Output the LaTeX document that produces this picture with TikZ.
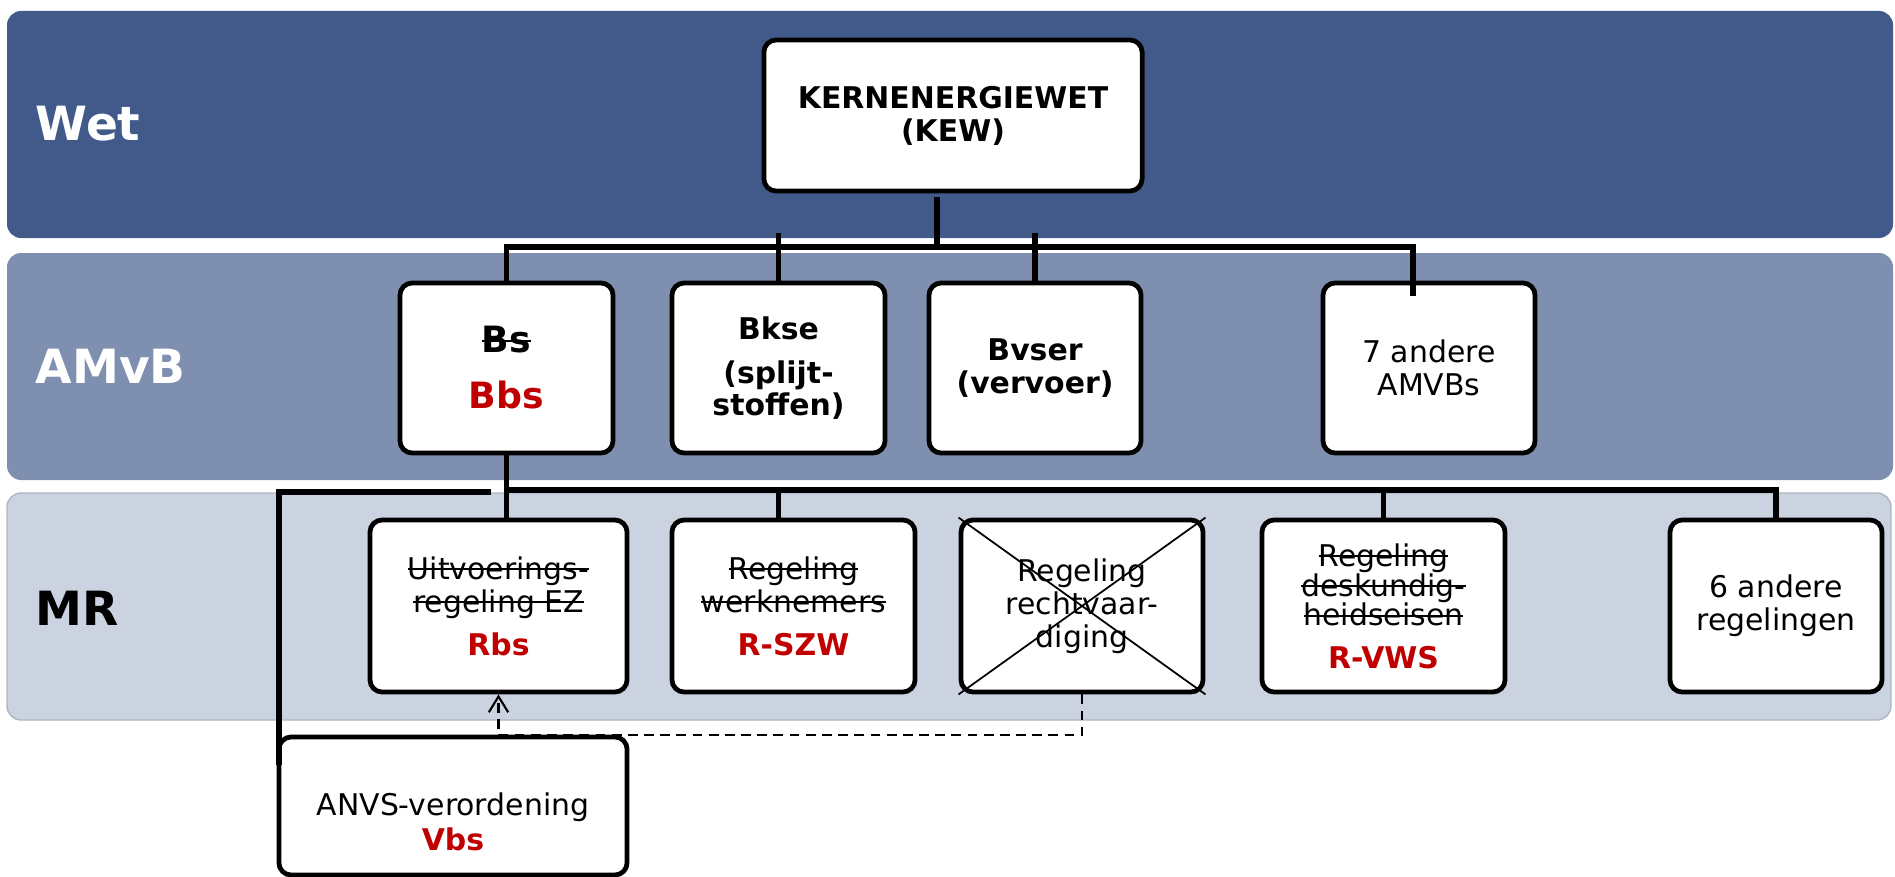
\documentclass[tikz,border=0pt]{standalone}
\usepackage{fontspec}
\setmainfont{DejaVu Sans}
\usepackage{tikz}
\usetikzlibrary{arrows.meta,calc}
\definecolor{wetblue}{HTML}{425A8A}
\definecolor{amvbblue}{HTML}{7F8FB0}
\definecolor{mrblue}{HTML}{CBD2E0}
\definecolor{mrline}{HTML}{AEB5C3}
\definecolor{newred}{HTML}{C00000}
\newlength{\strikelen}
\newcommand{\strike}[1]{\settowidth{\strikelen}{#1}\rlap{\rule[0.3em]{\strikelen}{0.55pt}}#1}
\newcommand{\newname}[1]{\textbf{\textcolor{newred}{#1}}}

\begin{document}
\begin{tikzpicture}[x=0.01cm,y=-0.01cm,
    band/.style={rounded corners=4pt},
    bandlabel/.style={anchor=west,inner sep=0pt,font=\fontsize{13.4}{15}\selectfont\bfseries},
    lawbox/.style={draw=black,line width=1.35pt,fill=white,rounded corners=3.5pt,align=center,inner sep=0pt,font=\fontsize{8.5}{9.4}\selectfont},
    tree/.style={line width=1.45pt},
    ref/.style={dash pattern=on 2.8pt off 1.8pt,line width=0.6pt,-{Straight Barb[length=4.5pt,width=5.5pt]}}]
    \useasboundingbox (0,0) rectangle (1895,876);
    \fill[wetblue,band] (7,11) rectangle (1893,238);
    \fill[amvbblue,band] (7,253) rectangle (1893,480);
    \filldraw[fill=mrblue,draw=mrline,band] (7,493) rectangle (1891,720);
    \node[bandlabel,white] (wet) at (35,124) {Wet};
    \node[bandlabel,white] (amvb) at (35,366) {AMvB};
    \node[bandlabel] (mr) at (35,608) {MR};

    \node[lawbox,minimum width=3.78cm,minimum height=1.51cm,font=\fontsize{8.5}{9.4}\selectfont\bfseries] (kew) at (953,115.5) {KERNENERGIEWET\\(KEW)};

    \node[lawbox,minimum width=2.13cm,minimum height=1.7cm,font=\fontsize{10.3}{11.5}\selectfont\bfseries] (bbs) at (506.5,368) {\strike{Bs}\\[4.4pt]\textcolor{newred}{Bbs}};
    \node[lawbox,minimum width=2.13cm,minimum height=1.7cm,font=\fontsize{8.5}{9}\selectfont\bfseries] (bkse) at (778.5,368) {Bkse\\[3.5pt](splijt-\\stoffen)};
    \node[lawbox,minimum width=2.12cm,minimum height=1.7cm,font=\fontsize{8.5}{9.2}\selectfont\bfseries] (bvser) at (1035,368) {Bvser\\(vervoer)};
    \node[lawbox,minimum width=2.12cm,minimum height=1.7cm] (amvbs) at (1429,368) {7 andere\\AMVBs};

    \node[lawbox,minimum width=2.57cm,minimum height=1.72cm] (rbs) at (498.5,606) {\strike{Uitvoerings-}\\\strike{regeling EZ}\\[2.8pt]\newname{Rbs}};
    \node[lawbox,minimum width=2.43cm,minimum height=1.72cm] (rszw) at (793.5,606) {\strike{Regeling}\\\strike{werknemers}\\[2.8pt]\newname{R-SZW}};
    \node[lawbox,minimum width=2.42cm,minimum height=1.72cm] (recht) at (1082,606) {Regeling\\rechtvaar-\\diging};
    \node[lawbox,minimum width=2.43cm,minimum height=1.72cm,font=\fontsize{8.5}{8.5}\selectfont] (rvws) at (1383.5,606) {\strike{Regeling}\\\strike{deskundig-}\\\strike{heidseisen}\\[3.5pt]\newname{R-VWS}};
    \node[lawbox,minimum width=2.12cm,minimum height=1.72cm] (regelingen) at (1776,606) {6 andere\\regelingen};

    \node[lawbox,minimum width=3.48cm,minimum height=1.38cm] (anvs) at (453,806) {\rule{0pt}{15.5pt}ANVS-verordening\\[0.6pt]\newname{Vbs}};

    \draw[line width=0.5pt] (recht.north west) -- (recht.south east) (recht.north east) -- (recht.south west);

    \coordinate (kewfoot) at (937,197);
    \coordinate (amvbrail) at (0,247);
    \coordinate (amvbtop) at (0,233);
    \coordinate (amvbend) at (1413,296);
    \coordinate (mrrail) at (0,490);
    \coordinate (anvstap) at (491,492);
    \coordinate (anvsend) at (279,765);

    \draw[tree] (kewfoot) -- (kewfoot |- amvbrail) -| (bbs.north);
    \draw[tree] (kewfoot |- amvbrail) -| (amvbend);
    \draw[tree] (bkse.north |- amvbtop) -- (bkse.north);
    \draw[tree] (bvser.north |- amvbtop) -- (bvser.north);
    \draw[tree] (bbs.south) -- (bbs.south |- rbs.north);
    \draw[tree] (bbs.south |- mrrail) -| (regelingen.north);
    \draw[tree] (bkse.south |- mrrail) -- (bkse.south |- rszw.north);
    \draw[tree] ($(recht.north)+(-17,0)$ |- mrrail) -- ($(recht.north)+(-17,0)$);
    \draw[tree] (rvws.north |- mrrail) -- (rvws.north);
    \draw[tree] (anvstap) -| (anvsend);
    \draw[ref] (recht.south) -- ++(0,41) -| (rbs.south);
\end{tikzpicture}
\end{document}
